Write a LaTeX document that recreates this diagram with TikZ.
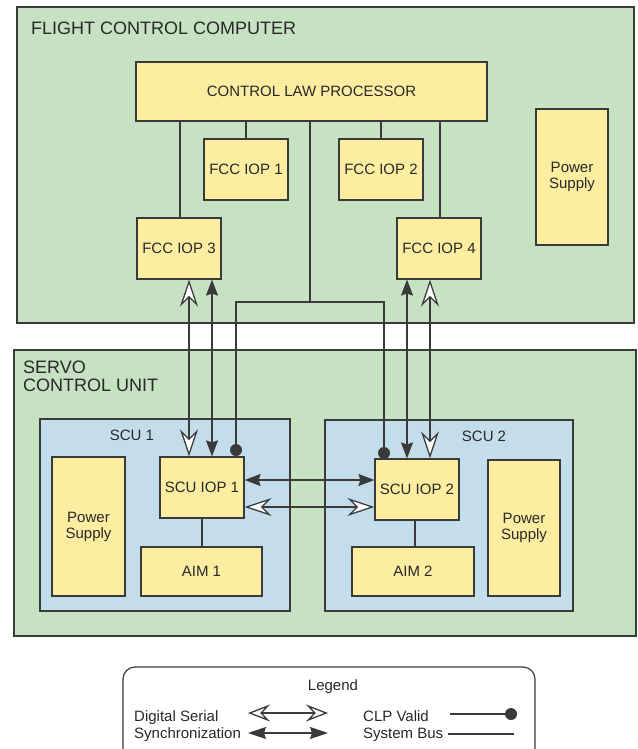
\documentclass[tikz,border=0pt]{standalone}
\usepackage{fontspec}
\setmainfont{Liberation Sans}
\usetikzlibrary{arrows.meta,calc}
\definecolor{fccgreen}{RGB}{198,226,194}
\definecolor{scublue}{RGB}{196,221,235}
\definecolor{boxyellow}{RGB}{252,237,161}
\definecolor{edgegray}{RGB}{58,58,58}
\definecolor{ink}{RGB}{40,40,40}
\newcommand\boxfont{\fontsize{15}{16}\selectfont}
\newcommand\titlefont{\fontsize{18}{18}\selectfont}
\tikzset{
  panel/.style={draw=edgegray, line width=1.2pt, inner sep=0pt},
  ybox/.style={draw=edgegray, fill=boxyellow, line width=1.2pt, inner sep=0pt, align=center, text=ink, font=\boxfont},
  lbl/.style={text=ink, font=\boxfont, inner sep=0pt},
  wire/.style={draw=edgegray, line width=1.3pt},
  filledtip/.tip={Stealth[length=16pt,width=12pt,inset=2pt]},
  opentip/.tip={Stealth[length=27pt,width=18pt,inset=9pt,fill=white]},
  syncarr/.style={wire, filledtip-filledtip},
  serarr/.style={wire, opentip-opentip},
  legopen/.tip={Stealth[length=22pt,width=17pt,inset=8pt,fill=white]},
  legfilled/.tip={Stealth[length=18pt,width=12pt,inset=2pt]},
}
\begin{document}
\begin{tikzpicture}[x=1pt,y=-1pt]
\useasboundingbox (0,0) rectangle (637,749);
\clip (0,0) rectangle (637,749);
\fill[white] (0,0) rectangle (637,749);

% panels
\node[panel, fill=fccgreen, minimum width=617pt, minimum height=316pt] (fcc) at (325.5,165) {};
\node[lbl, font=\titlefont, anchor=base west] (fcctitle) at (31,35) {FLIGHT CONTROL COMPUTER};
\node[panel, fill=fccgreen, minimum width=622pt, minimum height=286pt] (scu) at (325,493) {};
\node[lbl, font=\titlefont, anchor=base west] (scutitleA) at (23,373) {SERVO};
\node[lbl, font=\titlefont, anchor=base west] (scutitleB) at (23,391) {CONTROL UNIT};
\node[panel, fill=scublue, minimum width=250pt, minimum height=192pt] (scuone) at (165,515) {};
\node[panel, fill=scublue, minimum width=248pt, minimum height=191pt] (scutwo) at (449,515.5) {};
\node[lbl, anchor=base] (scuonelbl) at (132,440) {SCU 1};
\node[lbl, anchor=base] (scutwolbl) at (484,441) {SCU 2};

% FCC boxes
\node[ybox, minimum width=351pt, minimum height=59pt] (clp) at (311.5,91.5) {CONTROL LAW PROCESSOR};
\node[ybox, minimum width=84pt, minimum height=61pt] (fiop1) at (246,169.5) {FCC IOP 1};
\node[ybox, minimum width=84pt, minimum height=61pt] (fiop2) at (381,169.5) {FCC IOP 2};
\node[ybox, minimum width=84pt, minimum height=61pt] (fiop3) at (179,248.5) {FCC IOP 3};
\node[ybox, minimum width=84pt, minimum height=61pt] (fiop4) at (439,248.5) {FCC IOP 4};
\node[ybox, minimum width=72pt, minimum height=136pt] (fps) at (572,177) {Power\\Supply};

% SCU boxes
\node[ybox, minimum width=73pt, minimum height=139pt] (ps1) at (88.5,526.5) {Power\\Supply};
\node[ybox, minimum width=84pt, minimum height=61pt] (siop1) at (202,487.5) {SCU IOP 1};
\node[ybox, minimum width=121pt, minimum height=49pt] (aim1) at (201.5,571.5) {AIM 1};
\node[ybox, minimum width=84pt, minimum height=61pt] (siop2) at (417,489.5) {SCU IOP 2};
\node[ybox, minimum width=122pt, minimum height=49pt] (aim2) at (413,571.5) {AIM 2};
\node[ybox, minimum width=72pt, minimum height=136pt] (ps2) at (524,528) {Power\\Supply};

% system bus inside FCC
\draw[wire] (fiop3.north -| 180,0) -- (clp.south -| 180,0);
\draw[wire] (fiop1.north) -- (fiop1.north |- clp.south);
\draw[wire] (fiop2.north) -- (fiop2.north |- clp.south);
\draw[wire] (fiop4.north -| 440,0) -- (clp.south -| 440,0);
\draw[wire] (siop1.south) -- (siop1.south |- aim1.north);
\draw[wire] (siop2.south -| 415,0) -- (aim2.north -| 415,0);

% CLP valid
\coordinate (bus) at (310,302);
\coordinate (dotone) at (236,450);
\coordinate (dottwo) at (384,453);
\draw[wire] (clp.south -| bus) -- (bus);
\draw[wire] (dotone) |- (bus) -| (dottwo);
\fill[edgegray] (dotone) circle (6pt);
\fill[edgegray] (dottwo) circle (6pt);

% vertical links
\coordinate (vA) at (189,0);
\coordinate (vB) at (212,0);
\coordinate (vC) at (407,0);
\coordinate (vD) at (430,0);
\draw[serarr] (fiop3.south -| vA) -- (siop1.north -| vA);
\draw[syncarr] (fiop3.south -| vB) -- (siop1.north -| vB);
\draw[syncarr] (fiop4.south -| vC) -- (siop2.north -| vC);
\draw[serarr] (fiop4.south -| vD) -- (siop2.north -| vD);

% horizontal links
\coordinate (hA) at (0,480);
\coordinate (hB) at (0,507);
\draw[syncarr] (siop1.east |- hA) -- (siop2.west |- hA);
\draw[serarr] (siop1.east |- hB) -- (siop2.west |- hB);

% legend
\draw[edgegray, line width=1.2pt, rounded corners=12pt] (123,667) rectangle (535,770);
\node[lbl, anchor=base] (legtitle) at (333,690) {Legend};
\node[lbl, anchor=base west] (legds) at (134,721) {Digital Serial};
\node[lbl, anchor=base west] (legsync) at (134,738) {Synchronization};
\node[lbl, anchor=base west] (legclp) at (363,721) {CLP Valid};
\node[lbl, anchor=base west] (legbus) at (363,738) {System Bus};
\coordinate (loA) at (248,713);
\coordinate (loB) at (328,713);
\coordinate (lfA) at (248,733);
\coordinate (lfB) at (328,733);
\draw[wire, legopen-legopen] (loA) -- (loB);
\draw[wire, legfilled-legfilled] (lfA) -- (lfB);
\coordinate (lcA) at (450,714);
\coordinate (lcB) at (511,714);
\draw[wire] (lcA) -- (lcB);
\fill[edgegray] (lcB) circle (6pt);
\coordinate (lbA) at (448,734);
\coordinate (lbB) at (514,734);
\draw[wire] (lbA) -- (lbB);
\end{tikzpicture}
\end{document}
